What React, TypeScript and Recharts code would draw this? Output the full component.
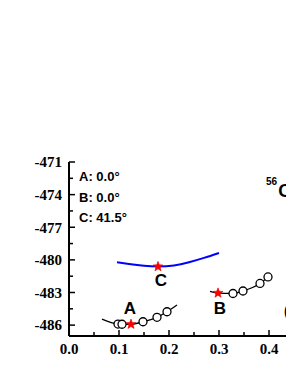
import React from 'react';
import { ComposedChart, Line, Scatter, XAxis, YAxis } from 'recharts';

const xTicks = [0, 0.05, 0.1, 0.15, 0.2, 0.25, 0.3, 0.35, 0.4, 0.45, 0.5];
const xLabels = [0, 0.1, 0.2, 0.3, 0.4, 0.5];
const yTicks = [-471, -472.5, -474, -475.5, -477, -478.5, -480, -481.5, -483, -484.5, -486];
const yLabels = [-471, -474, -477, -480, -483, -486];

const curveC = [
  { x: 0.096, y: -480.22 },
  { x: 0.12, y: -480.38 },
  { x: 0.15, y: -480.55 },
  { x: 0.178, y: -480.62 },
  { x: 0.21, y: -480.52 },
  { x: 0.24, y: -480.22 },
  { x: 0.27, y: -479.82 },
  { x: 0.3, y: -479.37 },
];

const curveA = [
  { x: 0.066, y: -485.44 },
  { x: 0.098, y: -485.9 },
  { x: 0.106, y: -485.92 },
  { x: 0.124, y: -485.92 },
  { x: 0.148, y: -485.69 },
  { x: 0.176, y: -485.28 },
  { x: 0.196, y: -484.77 },
  { x: 0.216, y: -484.15 },
];
const circlesA = [
  { x: 0.098, y: -485.9 },
  { x: 0.106, y: -485.92 },
  { x: 0.148, y: -485.69 },
  { x: 0.176, y: -485.28 },
  { x: 0.196, y: -484.77 },
];

const curveB = [
  { x: 0.282, y: -482.9 },
  { x: 0.298, y: -483.05 },
  { x: 0.328, y: -483.09 },
  { x: 0.348, y: -482.86 },
  { x: 0.382, y: -482.17 },
  { x: 0.398, y: -481.57 },
];
const circlesB = [
  { x: 0.328, y: -483.09 },
  { x: 0.348, y: -482.86 },
  { x: 0.382, y: -482.17 },
  { x: 0.398, y: -481.57 },
];

const stars = [
  { x: 0.124, y: -485.92 },
  { x: 0.298, y: -483.05 },
  { x: 0.178, y: -480.62 },
];

const pointLabels = [
  { x: 0.122, y: -484.38, text: 'A' },
  { x: 0.302, y: -484.38, text: 'B' },
  { x: 0.184, y: -481.85, text: 'C' },
];

const angleNotes = [
  { x: 0.02, y: -472.75, text: 'A: 0.0°' },
  { x: 0.02, y: -474.65, text: 'B: 0.0°' },
  { x: 0.02, y: -476.55, text: 'C: 41.5°' },
];

const nucleus = [{ x: 0.394, y: -474.22, mass: '56', name: 'Co' }];
const panel = [{ x: 0.43, y: -485.2, text: '(b)' }];

const SERIF = '"Liberation Serif", "Times New Roman", Times, serif';
const SANS = '"Liberation Sans", Arial, Helvetica, sans-serif';

const YTick = (props: any) => {
  const { x, y, payload } = props;
  const v = payload.value;
  const major = yLabels.includes(v);
  const ax = x + 7;
  return (
    <g>
      <line x1={ax} x2={ax + (major ? 6 : 4)} y1={y} y2={y} stroke="#000" strokeWidth={1.5} />
      {major && (
        <text x={x} y={y} dy="0.35em" textAnchor="end" style={{ fontFamily: SERIF, fontWeight: 700, fontSize: 15 }} fill="#000">
          {v}
        </text>
      )}
    </g>
  );
};

const XTick = (props: any) => {
  const { x, y, payload } = props;
  const v = payload.value;
  const major = xLabels.includes(v);
  const ay = y - 7;
  return (
    <g>
      <line x1={x} x2={x} y1={ay} y2={ay - (major ? 6 : 4)} stroke="#000" strokeWidth={1.5} />
      {major && (
        <text x={x} y={y} dy="0.71em" textAnchor="middle" style={{ fontFamily: SERIF, fontWeight: 700, fontSize: 15 }} fill="#000">
          {v.toFixed(1)}
        </text>
      )}
    </g>
  );
};

const TopTick = (props: any) => {
  const { x, y, payload } = props;
  const major = xLabels.includes(payload.value);
  return <line x1={x} x2={x} y1={y} y2={y + (major ? 6 : 4)} stroke="#000" strokeWidth={1.5} />;
};

const CircleShape = (props: any) => (
  <circle cx={props.cx} cy={props.cy} r={4} fill="#fff" stroke="#000" strokeWidth={1.3} />
);

const StarShape = (props: any) => {
  const { cx, cy } = props;
  const pts: string[] = [];
  for (let i = 0; i < 10; i++) {
    const r = i % 2 === 0 ? 5.2 : 2.2;
    const a = -Math.PI / 2 + (i * Math.PI) / 5;
    pts.push(`${cx + r * Math.cos(a)},${cy + r * Math.sin(a)}`);
  }
  return <polygon points={pts.join(' ')} fill="#ff0000" stroke="#dd0000" strokeWidth={0.6} />;
};

const LabelShape = (props: any) => (
  <text x={props.cx} y={props.cy} dy="0.36em" textAnchor="middle" style={{ fontFamily: SANS, fontWeight: 700, fontSize: 17 }} fill="#000">
    {props.payload.text}
  </text>
);

const NoteShape = (props: any) => (
  <text x={props.cx} y={props.cy} textAnchor="start" style={{ fontFamily: SANS, fontWeight: 700, fontSize: 13 }} fill="#000">
    {props.payload.text}
  </text>
);

const NucleusShape = (props: any) => (
  <text x={props.cx} y={props.cy} textAnchor="start" style={{ fontFamily: SANS, fontWeight: 700 }} fill="#000">
    <tspan fontSize={10} dy={-12}>{props.payload.mass}</tspan>
    <tspan fontSize={18} dx={1} dy={12}>{props.payload.name}</tspan>
  </text>
);

const PanelShape = (props: any) => (
  <text x={props.cx} y={props.cy} textAnchor="start" style={{ fontFamily: SANS, fontWeight: 700, fontSize: 14 }} fill="#000">
    {props.payload.text}
  </text>
);

export default function App() {
  return (
    <div style={{ width: 286, height: 365, overflow: 'hidden' }}>
      <ComposedChart width={340} height={365} margin={{ top: 154, right: 29, bottom: 7, left: 0 }}>
        <XAxis
          xAxisId={0}
          type="number"
          dataKey="x"
          domain={[0, 0.5]}
          ticks={xTicks}
          interval={0}
          allowDataOverflow
          height={30}
          tickSize={0}
          tickMargin={7}
          tickLine={false}
          axisLine={{ stroke: '#000', strokeWidth: 2 }}
          tick={<XTick />}
        />
        <XAxis
          xAxisId="top"
          orientation="top"
          type="number"
          dataKey="x"
          domain={[0, 0.5]}
          ticks={xTicks}
          interval={0}
          allowDataOverflow
          height={0}
          tickSize={0}
          tickMargin={0}
          tickLine={false}
          axisLine={{ stroke: '#000', strokeWidth: 2 }}
          tick={<TopTick />}
        />
        <YAxis
          type="number"
          dataKey="y"
          domain={[-487, -471]}
          ticks={yTicks}
          interval={0}
          allowDataOverflow
          width={61}
          tickSize={0}
          tickMargin={7}
          tickLine={false}
          axisLine={{ stroke: '#000', strokeWidth: 2 }}
          tick={<YTick />}
        />
        <Line data={curveC} dataKey="y" type="natural" stroke="#0000ff" strokeWidth={2} dot={false} isAnimationActive={false} />
        <Line data={curveA} dataKey="y" type="monotone" stroke="#000" strokeWidth={1.3} dot={false} isAnimationActive={false} />
        <Line data={curveB} dataKey="y" type="monotone" stroke="#000" strokeWidth={1.3} dot={false} isAnimationActive={false} />
        <Scatter data={circlesA} shape={<CircleShape />} isAnimationActive={false} />
        <Scatter data={circlesB} shape={<CircleShape />} isAnimationActive={false} />
        <Scatter data={stars} shape={<StarShape />} isAnimationActive={false} />
        <Scatter data={pointLabels} shape={<LabelShape />} isAnimationActive={false} />
        <Scatter data={angleNotes} shape={<NoteShape />} isAnimationActive={false} />
        <Scatter data={nucleus} shape={<NucleusShape />} isAnimationActive={false} />
        <Scatter data={panel} shape={<PanelShape />} isAnimationActive={false} />
      </ComposedChart>
    </div>
  );
}
